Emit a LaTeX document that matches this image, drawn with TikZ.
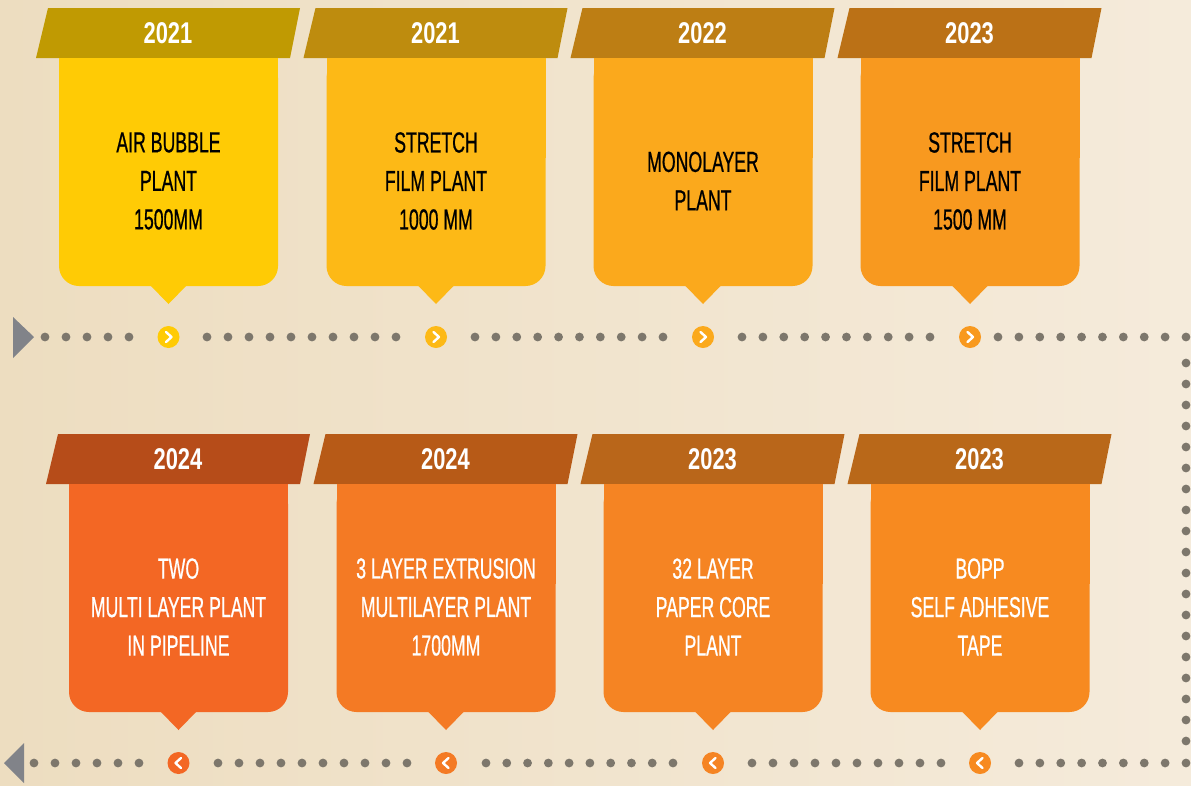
\documentclass[tikz,border=0pt]{standalone}
\usepackage{fontspec}
\newfontfamily\cardfont{Liberation Sans}[FakeStretch=0.61, FakeBold=0.6]
\newfontfamily\yearfont{Liberation Sans}[FakeStretch=0.73]
\usetikzlibrary{shapes}
\definecolor{bgleft}{HTML}{EDDDC0}
\definecolor{bgright}{HTML}{F5EBDB}
\definecolor{dotgray}{HTML}{7D776C}
\definecolor{arrowgray}{HTML}{818389}
\definecolor{bodyA}{HTML}{FFCB05}
\definecolor{bandA}{HTML}{C09A02}
\definecolor{bodyB}{HTML}{FDB916}
\definecolor{bandB}{HTML}{BE8C0E}
\definecolor{bodyC}{HTML}{FBA91C}
\definecolor{bandC}{HTML}{BD7E14}
\definecolor{bodyD}{HTML}{F8991F}
\definecolor{bandD}{HTML}{BB7116}
\definecolor{bodyE}{HTML}{F36724}
\definecolor{bandE}{HTML}{B64C19}
\definecolor{bodyF}{HTML}{F47A24}
\definecolor{bandF}{HTML}{B75A17}
\definecolor{bodyG}{HTML}{F58423}
\definecolor{bandG}{HTML}{B9661A}
\definecolor{bodyH}{HTML}{F78A20}
\definecolor{bandH}{HTML}{B96819}
\tikzstyle{year_label} = [text=white, inner sep=0pt, font=\yearfont\bfseries\fontsize{30}{30}\selectfont]
\tikzstyle{card_text} = [inner sep=0pt, align=center, font=\cardfont\fontsize{29}{38.5}\selectfont]
\tikzstyle{marker} = [circle, inner sep=0pt, minimum size=22pt]
\tikzstyle{chevron} = [white, line width=2.4pt, line cap=round, line join=round]

\begin{document}
\begin{tikzpicture}[x=1pt,y=-1pt]
\fill[left color=bgleft, right color=bgright] (0,0) rectangle (1191,785);
\useasboundingbox (0,0) rectangle (1191,785);

% cards: centre x / top y / body / band / year / text colour / text
\foreach \cx/\ty/\body/\band/\yr/\tc/\txt [count=\i] in {
  168.5/8/bodyA/bandA/2021/black/{AIR BUBBLE\\PLANT\\1500MM},
  436/8/bodyB/bandB/2021/black/{STRETCH\\FILM PLANT\\1000 MM},
  703/8/bodyC/bandC/2022/black/{MONOLAYER\\PLANT},
  970/8/bodyD/bandD/2023/black/{STRETCH\\FILM PLANT\\1500 MM},
  178.5/434/bodyE/bandE/2024/white/{TWO\\MULTI LAYER PLANT\\IN PIPELINE},
  446/434/bodyF/bandF/2024/white/{3 LAYER EXTRUSION\\MULTILAYER PLANT\\1700MM},
  713/434/bodyG/bandG/2023/white/{32 LAYER\\PAPER CORE\\PLANT},
  980/434/bodyH/bandH/2023/white/{BOPP\\SELF ADHESIVE\\TAPE}} {
  \fill[\band] (\cx-132.5,\ty+50) -- (\cx-120.5,\ty) -- (\cx+131.5,\ty) -- (\cx+121.5,\ty+50) -- cycle;
  \fill[\body, rounded corners=20pt] (\cx-109.5,\ty+50) rectangle (\cx+109.5,\ty+278);
  \fill[\body] (\cx-109.5,\ty+50) rectangle (\cx+109.5,\ty+150);
  \fill[\body] (\cx-18.5,\ty+277) -- (\cx+18.5,\ty+277) -- (\cx,\ty+296) -- cycle;
  \node[year_label] (year\i) at (\cx-0.5,\ty+25) {\yr};
  \node[card_text, text=\tc] (plant\i) at (\cx,\ty+173) {\txt};
}

% start and end arrows
\fill[arrowgray] (13,317) -- (34,337) -- (13,358) -- cycle;
\fill[arrowgray] (24,743) -- (4,763) -- (24,783) -- cycle;

% dotted timeline
\foreach \a/\b/\n in {45/129/4, 207/396/9, 475/663/9, 742/930/9, 998/1186/9}
  \foreach \k in {0,...,\n}
    \fill[dotgray] ({\a+(\b-\a)*\k/\n},337) circle (4.4);
\foreach \k in {0,...,18}
  \fill[dotgray] (1186,{363+21*\k}) circle (4.4);
\foreach \a/\b/\n in {34/139/5, 218/407/9, 486/673/9, 752/941/9, 1019/1186/8}
  \foreach \k in {0,...,\n}
    \fill[dotgray] ({\a+(\b-\a)*\k/\n},763) circle (4.4);

% markers
\foreach \x/\c [count=\i] in {168.5/bodyA, 436/bodyB, 703/bodyC, 970/bodyD} {
  \node[marker, fill=\c] (next\i) at (\x,337) {};
  \draw[chevron] (next\i.center) ++(-2.5,-5) -- ++(5.5,5) -- ++(-5.5,5);
}
\foreach \x/\c [count=\i] in {178.5/bodyE, 446/bodyF, 713/bodyG, 980/bodyH} {
  \node[marker, fill=\c] (back\i) at (\x,763) {};
  \draw[chevron] (back\i.center) ++(2.5,-5) -- ++(-5.5,5) -- ++(5.5,5);
}
\end{tikzpicture}
\end{document}
